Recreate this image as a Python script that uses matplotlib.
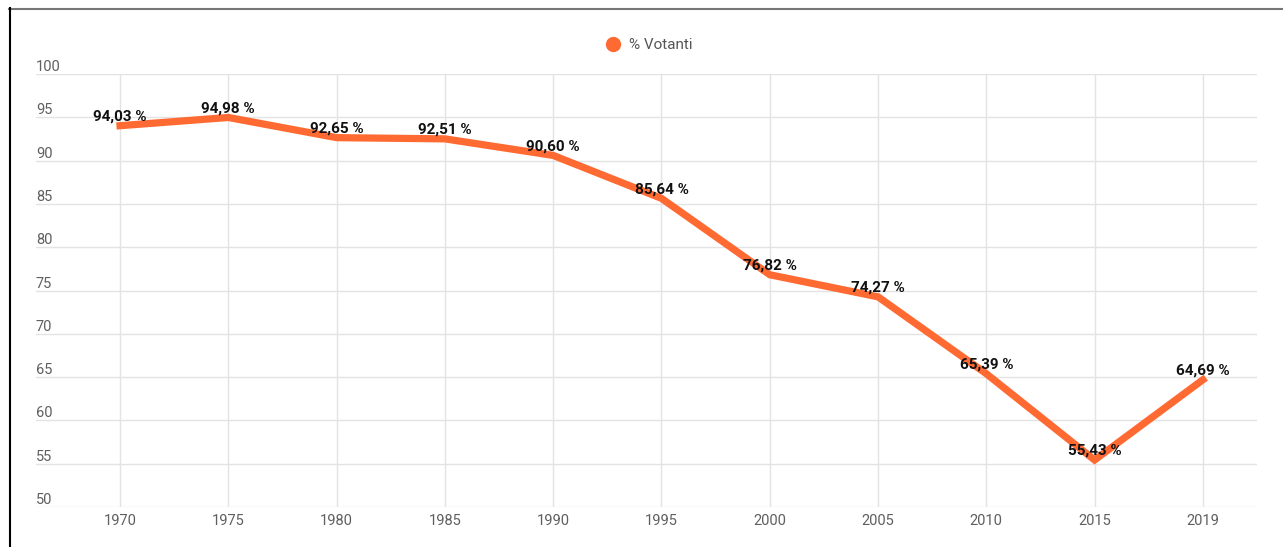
"""
    Voter turnout line chart
"""

import matplotlib
matplotlib.use("Agg")
from matplotlib import pyplot as plt
from matplotlib.lines import Line2D

plt.rcParams['font.family'] = ['Roboto', 'DejaVu Sans']

years = ["1970", "1975", "1980", "1985", "1990", "1995",
         "2000", "2005", "2010", "2015", "2019"]
turnout = [94.03, 94.98, 92.65, 92.51, 90.60, 85.64,
           76.82, 74.27, 65.39, 55.43, 64.69]
y_ticks = [50, 55, 60, 65, 70, 75, 80, 85, 90, 95, 100]

ORANGE = "#ff6a33"
GRID = "#e3e3e3"
TICK = "#5f5f5f"

fig = plt.figure(figsize=(12.83, 5.47), dpi=100)
ax = fig.add_axes([36 / 1283, 1 - 507 / 547, (1257 - 36) / 1283, (507 - 74) / 547])

x = list(range(len(years)))
ax.plot(x, turnout, color=ORANGE, linewidth=5.2, solid_joinstyle='miter',
        label="% Votanti", zorder=3)

for xi, v in zip(x, turnout):
    lbl = f"{v:.2f} %".replace(".", ",")
    ax.annotate(lbl, (xi, v), xytext=(0, 1.5), textcoords='offset points',
                ha='center', va='bottom', fontsize=11, fontweight='bold',
                color='#111111', zorder=4)

ax.set_xlim(-0.776, 10.5)
ax.set_ylim(50, 100)
ax.set_xticks(x)
ax.set_xticklabels(years)
ax.set_yticks(y_ticks)
ax.set_yticklabels([])
ax.tick_params(axis='x', length=0, pad=5, labelsize=10.5, labelcolor=TICK)
ax.tick_params(axis='y', length=0)
ax.grid(True, color=GRID, linewidth=1)
ax.set_axisbelow(True)
for s in ax.spines.values():
    s.set_visible(False)

# y labels sit above their gridlines, at the left edge
for t in y_ticks:
    ax.text(0.0, t, str(t), transform=ax.get_yaxis_transform(),
            ha='left', va='bottom', fontsize=10.5, color=TICK)

handle = Line2D([], [], color=ORANGE, marker='o', linestyle='none', markersize=10)
fig.legend([handle], ["% Votanti"], loc='center', bbox_to_anchor=(645 / 1283, 1 - 45 / 547),
           frameon=False, fontsize=11, labelcolor='#555555', handletextpad=0.0)

# frame lines
fig.add_artist(Line2D([9 / 1283, 1], [1 - 8.5 / 547, 1 - 8.5 / 547], color='#777777', linewidth=1.5))
fig.add_artist(Line2D([9.5 / 1283, 9.5 / 1283], [0, 1 - 8 / 547], color='black', linewidth=1.5))

plt.savefig("out.png", dpi=100)
